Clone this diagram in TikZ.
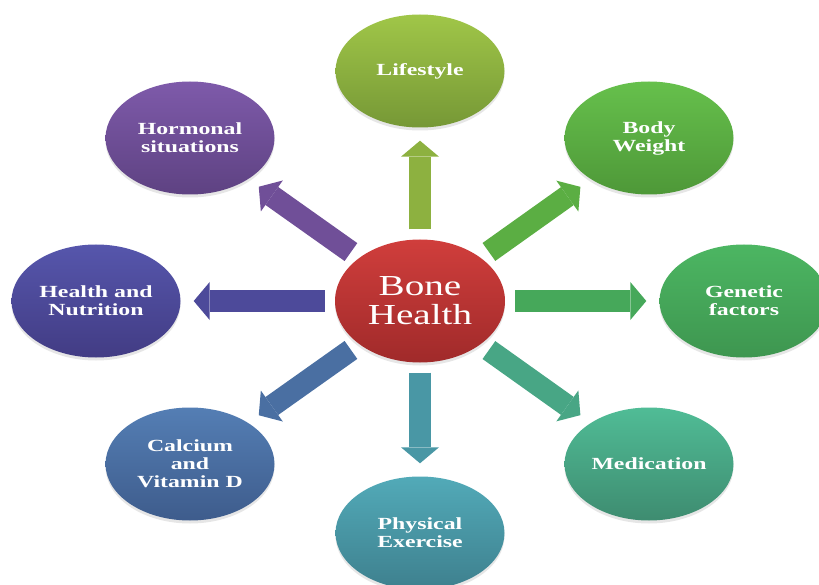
\documentclass[tikz,border=0pt]{standalone}
\usepackage{fontspec}
\setmainfont{Liberation Serif}
\newfontfamily\labelfont[FakeStretch=1.4]{Liberation Serif}
\newfontfamily\bonefont[FakeStretch=1.35]{Liberation Serif}
\usetikzlibrary{shapes.geometric,arrows.meta,shadows}
\definecolor{life-top}{RGB}{160,198,72}
\definecolor{life-bot}{RGB}{118,152,54}
\definecolor{weight-top}{RGB}{102,192,76}
\definecolor{weight-bot}{RGB}{78,152,56}
\definecolor{genetic-top}{RGB}{76,182,98}
\definecolor{genetic-bot}{RGB}{62,150,80}
\definecolor{medic-top}{RGB}{80,188,150}
\definecolor{medic-bot}{RGB}{62,140,112}
\definecolor{exercise-top}{RGB}{82,170,184}
\definecolor{exercise-bot}{RGB}{62,128,142}
\definecolor{calcium-top}{RGB}{84,126,180}
\definecolor{calcium-bot}{RGB}{62,92,140}
\definecolor{nutrition-top}{RGB}{86,86,172}
\definecolor{nutrition-bot}{RGB}{66,60,132}
\definecolor{hormone-top}{RGB}{126,90,170}
\definecolor{hormone-bot}{RGB}{94,66,130}
\definecolor{bone-top}{RGB}{208,62,60}
\definecolor{bone-bot}{RGB}{160,42,42}
\tikzset{
    factor-node/.style 2 args = {ellipse, minimum width=169pt, minimum height=113pt, inner sep=0pt, align=center, text=white, top color=#1, bottom color=#2, font=\labelfont\bfseries\fontsize{17}{18}\selectfont, drop shadow={shadow xshift=0pt, shadow yshift=-3pt, opacity=0.2}},
    bone-node/.style = {ellipse, minimum width=170pt, minimum height=123pt, inner sep=0pt, align=center, text=white, top color=bone-top, bottom color=bone-bot, font=\bonefont\fontsize{29}{29}\selectfont, drop shadow={shadow xshift=0pt, shadow yshift=-3pt, opacity=0.2}},
    block-arrow/.style = {line width=22pt, shorten <=10pt, shorten >=13pt, -{Triangle[width=38pt, length=16pt, line width=0pt]}},
}
\begin{document}
\begin{tikzpicture}[x=1pt, y=-1pt]
\useasboundingbox (0,0) rectangle (819,585);
\node [bone-node] (bone) at (420,301) {Bone\\Health};
\node [factor-node={life-top}{life-bot}] (life) at (420,71) {Lifestyle};
\node [factor-node={weight-top}{weight-bot}] (weight) at (649,138) {Body\\Weight};
\node [factor-node={genetic-top}{genetic-bot}] (genetic) at (744,301) {Genetic\\factors};
\node [factor-node={medic-top}{medic-bot}] (medic) at (649,464) {Medication};
\node [factor-node={exercise-top}{exercise-bot}] (exercise) at (420,533) {Physical\\Exercise};
\node [factor-node={calcium-top}{calcium-bot}] (calcium) at (190,464) {Calcium\\and\\Vitamin D};
\node [factor-node={nutrition-top}{nutrition-bot}] (nutrition) at (96,301) {Health and\\Nutrition};
\node [factor-node={hormone-top}{hormone-bot}] (hormone) at (190,138) {Hormonal\\situations};
% arrows from the centre
\draw [block-arrow, draw=life-top!55!life-bot] (bone) -- (life);
\draw [block-arrow, draw=weight-top!55!weight-bot] (bone) -- (weight);
\draw [block-arrow, draw=genetic-top!55!genetic-bot] (bone) -- (genetic);
\draw [block-arrow, draw=medic-top!55!medic-bot] (bone) -- (medic);
\draw [block-arrow, draw=exercise-top!55!exercise-bot] (bone) -- (exercise);
\draw [block-arrow, draw=calcium-top!55!calcium-bot] (bone) -- (calcium);
\draw [block-arrow, draw=nutrition-top!55!nutrition-bot] (bone) -- (nutrition);
\draw [block-arrow, draw=hormone-top!55!hormone-bot] (bone) -- (hormone);
\end{tikzpicture}
\end{document}
